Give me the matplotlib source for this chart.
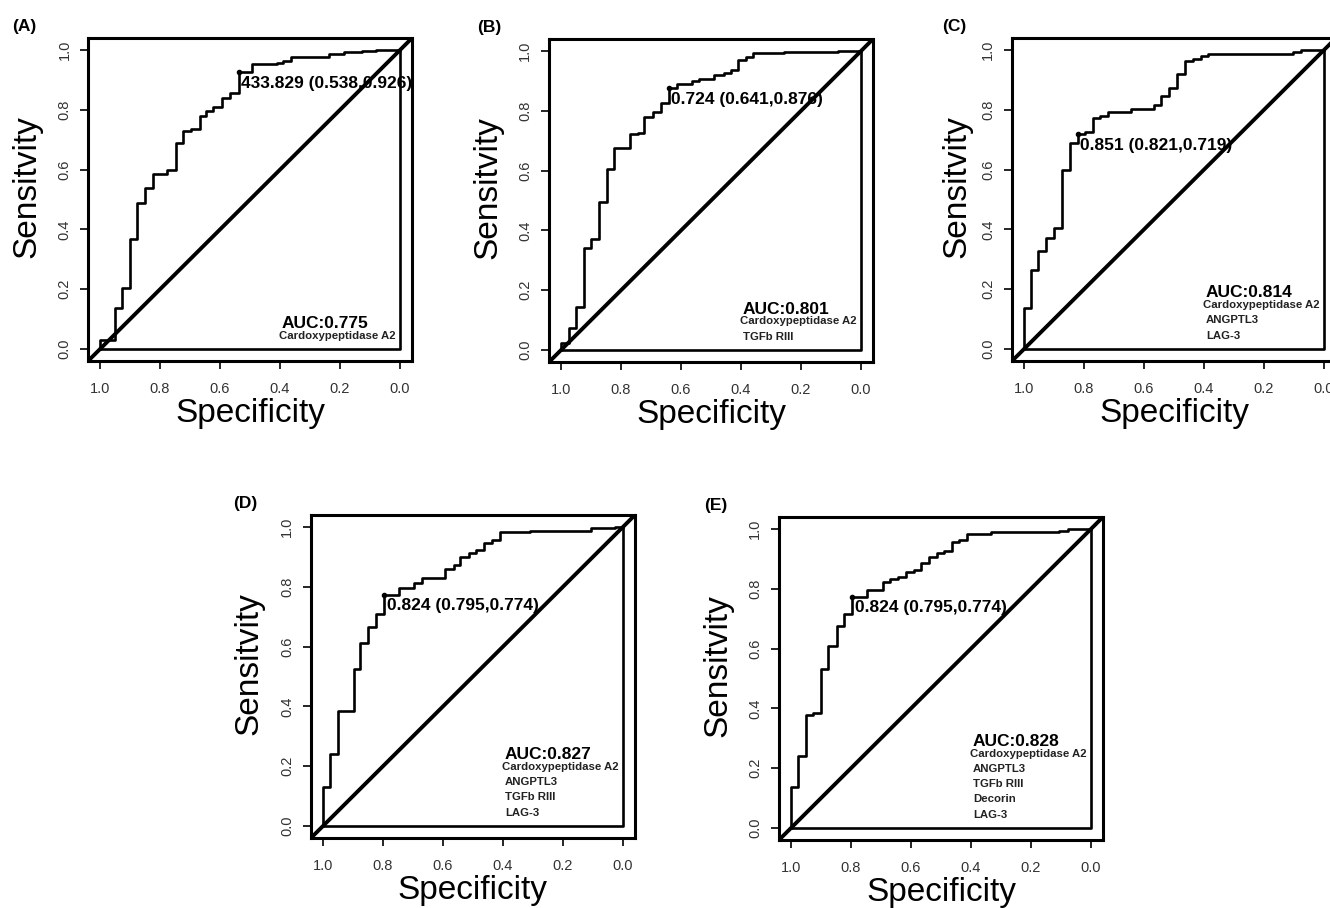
# Curvas ROC de los cinco modelos (A-E)
import numpy as np
import matplotlib
matplotlib.use("Agg")
import matplotlib.pyplot as plt

plt.rcParams['font.family'] = ['Liberation Sans', 'DejaVu Sans']

# Datos: especificidad y sensibilidad en cada escalon
spec_A = [1.0, 1.0, 0.950, 0.926, 0.901, 0.876, 0.850, 0.823, 0.776, 0.748, 0.722, 0.696,
          0.668, 0.648, 0.622, 0.592, 0.567, 0.538, 0.492, 0.409, 0.389, 0.364, 0.237,
          0.187, 0.126, 0.081, 0.0]
sens_A = [0.0, 0.030, 0.138, 0.203, 0.368, 0.490, 0.540, 0.584, 0.600, 0.688, 0.729, 0.735,
          0.780, 0.797, 0.809, 0.840, 0.855, 0.926, 0.952, 0.957, 0.963, 0.975, 0.987,
          0.992, 0.996, 1.0, 1.0]

spec_B = [1.0, 1.0, 0.975, 0.950, 0.923, 0.900, 0.875, 0.847, 0.822, 0.769, 0.744, 0.722,
          0.694, 0.667, 0.641, 0.613, 0.563, 0.539, 0.489, 0.458, 0.435, 0.411, 0.383,
          0.360, 0.257, 0.076, 0.0]
sens_B = [0.0, 0.025, 0.075, 0.145, 0.342, 0.372, 0.496, 0.604, 0.674, 0.721, 0.726, 0.780,
          0.796, 0.825, 0.876, 0.889, 0.900, 0.907, 0.919, 0.925, 0.935, 0.969, 0.981,
          0.994, 0.998, 1.0, 1.0]

spec_C = [1.0, 1.0, 0.978, 0.953, 0.928, 0.900, 0.874, 0.847, 0.821, 0.797, 0.771, 0.747,
          0.720, 0.643, 0.565, 0.543, 0.515, 0.489, 0.462, 0.437, 0.411, 0.387, 0.103,
          0.078, 0.0]
sens_C = [0.0, 0.136, 0.264, 0.329, 0.370, 0.404, 0.599, 0.688, 0.719, 0.727, 0.771, 0.780,
          0.793, 0.804, 0.816, 0.847, 0.874, 0.919, 0.964, 0.970, 0.981, 0.987, 0.994,
          0.999, 1.0]

spec_D = [1.0, 1.0, 0.976, 0.951, 0.898, 0.876, 0.850, 0.824, 0.795, 0.746, 0.698, 0.670,
          0.592, 0.564, 0.542, 0.514, 0.489, 0.464, 0.437, 0.411, 0.309, 0.106, 0.028, 0.0]
sens_D = [0.0, 0.131, 0.240, 0.385, 0.524, 0.611, 0.667, 0.708, 0.774, 0.797, 0.814, 0.831,
          0.859, 0.873, 0.900, 0.914, 0.923, 0.946, 0.955, 0.983, 0.987, 0.996, 1.0, 1.0]

spec_E = [1.0, 1.0, 0.976, 0.950, 0.925, 0.900, 0.878, 0.848, 0.822, 0.795, 0.748, 0.694,
          0.669, 0.644, 0.617, 0.591, 0.567, 0.541, 0.514, 0.489, 0.463, 0.439, 0.413,
          0.333, 0.106, 0.078, 0.0]
sens_E = [0.0, 0.136, 0.242, 0.379, 0.383, 0.532, 0.608, 0.674, 0.716, 0.774, 0.797, 0.824,
          0.833, 0.838, 0.857, 0.863, 0.885, 0.907, 0.918, 0.927, 0.958, 0.963, 0.983,
          0.991, 0.994, 0.999, 1.0]

# punto de corte optimo (umbral, especificidad, sensibilidad)
thr_labels = ["433.829", "0.724", "0.851", "0.824", "0.824"]
thr_spec = [0.538, 0.641, 0.821, 0.795, 0.795]
thr_sens = [0.926, 0.876, 0.719, 0.774, 0.774]

auc = [0.775, 0.801, 0.814, 0.827, 0.828]
markers = [["Cardoxypeptidase A2"],
           ["Cardoxypeptidase A2", "TGFb RIII"],
           ["Cardoxypeptidase A2", "ANGPTL3", "LAG-3"],
           ["Cardoxypeptidase A2", "ANGPTL3", "TGFb RIII", "LAG-3"],
           ["Cardoxypeptidase A2", "ANGPTL3", "TGFb RIII", "Decorin", "LAG-3"]]
panel_names = ["(A)", "(B)", "(C)", "(D)", "(E)"]

specs = [spec_A, spec_B, spec_C, spec_D, spec_E]
senss = [sens_A, sens_B, sens_C, sens_D, sens_E]

# posicion de cada panel en fraccion de la figura (izq, abajo)
pos = [(0.0662, 0.6024), (0.4128, 0.6013), (0.7609, 0.6024), (0.2338, 0.0771), (0.5857, 0.0749)]
W, H = 0.2436, 0.3557
lab_dx = [-76, -72, -70, -78, -75]   # desplazamiento de la letra del panel, px

fig = plt.figure(figsize=(13.3, 9.08), dpi=100)

for i in range(5):
    ax = fig.add_axes([pos[i][0], pos[i][1], W, H])
    ax.set_xlim(1.04, -0.04)
    ax.set_ylim(-0.04, 1.04)

    # diagonal y caja interior
    ax.axline((1, 0), (0, 1), color='black', lw=2.8, zorder=2)
    ax.plot([1, 0, 0], [0, 0, 1], color='black', lw=1.9, zorder=2)

    # curva ROC
    ax.step(specs[i], senss[i], where='post', color='black', lw=1.9, zorder=3)
    ax.plot(thr_spec[i], thr_sens[i], 'o', color='black', ms=3, zorder=4)
    ax.annotate("%s (%.3f,%.3f)" % (thr_labels[i], thr_spec[i], thr_sens[i]),
                (thr_spec[i], thr_sens[i]), xytext=(1.5, -2.5), textcoords='offset points',
                ha='left', va='top', fontsize=12.5, fontweight='bold', zorder=5)

    # leyenda del AUC
    n = len(markers[i])
    ax.text(0.394, 0.045 + 0.051 * n - 0.025, "AUC:%.3f" % auc[i], ha='left', va='baseline',
            fontsize=12.5, fontweight='bold')
    for k, name in enumerate(markers[i]):
        x0 = 0.402 if k == 0 else 0.393
        ax.text(x0, 0.045 + 0.051 * (n - 1 - k), name, ha='left', va='center',
                fontsize=8.2, fontweight='bold', color='#222222')

    for s in ax.spines.values():
        s.set_linewidth(2.2)
    ticks = [1.0, 0.8, 0.6, 0.4, 0.2, 0.0]
    ax.set_xticks(ticks)
    ax.set_yticks(ticks)
    ax.set_xticklabels(["%.1f" % t for t in ticks])
    ax.set_yticklabels(["%.1f" % t for t in ticks])
    ax.tick_params(length=6, width=1.2, labelsize=10.5, labelcolor='#333333')
    ax.tick_params(axis='x', pad=9)
    ax.tick_params(axis='y', pad=6, labelrotation=90)
    for lab in ax.get_yticklabels():
        lab.set_va('center')

    ax.set_xlabel("Specificity", fontsize=24)
    ax.set_ylabel("Sensitvity", fontsize=24)
    ax.xaxis.set_label_coords(0.5, -0.115)
    ax.yaxis.set_label_coords(-0.142 if i != 2 else -0.123, 0.54)

    fig.text(pos[i][0] + lab_dx[i] / 1330, pos[i][1] + H + 0.004,
             panel_names[i], fontsize=12.5, fontweight='bold', ha='left', va='bottom')

fig.savefig('out.png', dpi=100)
